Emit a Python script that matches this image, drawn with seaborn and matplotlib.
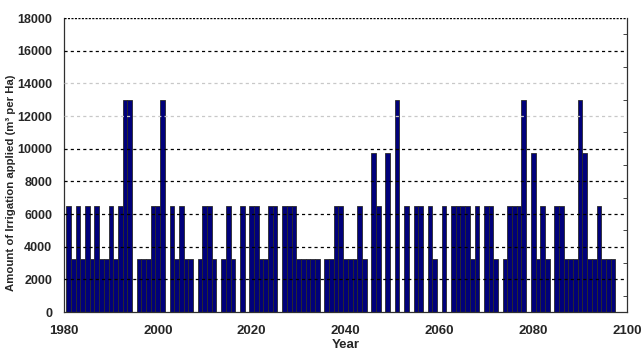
import matplotlib
matplotlib.use("Agg")
import matplotlib.pyplot as plt
from matplotlib.ticker import MultipleLocator
import seaborn as sns
import pandas as pd

# -----------------------------
# Data
# -----------------------------

years = list(range(1981, 2098))

irrigation = [
    6480, 3240, 6480, 3240, 6480, 3240, 6480, 3240, 3240, 6480,    # 1981-1990
    3240, 6480, 12960, 12960, 0, 3240, 3240, 3240, 6480, 6480,     # 1991-2000
    12960, 0, 6480, 3240, 6480, 3240, 3240, 0, 3240, 6480,         # 2001-2010
    6480, 3240, 0, 3240, 6480, 3240, 0, 6480, 0, 6480,             # 2011-2020
    6480, 3240, 3240, 6480, 6480, 0, 6480, 6480, 6480, 3240,       # 2021-2030
    3240, 3240, 3240, 3240, 0, 3240, 3240, 6480, 6480, 3240,       # 2031-2040
    3240, 3240, 6480, 3240, 0, 9720, 6480, 0, 9720, 0,             # 2041-2050
    12960, 0, 6480, 0, 6480, 6480, 0, 6480, 3240, 0,               # 2051-2060
    6480, 0, 6480, 6480, 6480, 6480, 3240, 6480, 0, 6480,          # 2061-2070
    6480, 3240, 0, 3240, 6480, 6480, 6480, 12960, 0, 9720,         # 2071-2080
    3240, 6480, 3240, 0, 6480, 6480, 3240, 3240, 3240, 12960,      # 2081-2090
    9720, 3240, 3240, 6480, 3240, 3240, 3240,                      # 2091-2097
]

y_ticks = list(range(0, 18001, 2000))
x_ticks = list(range(1980, 2101, 20))
light_grid = [12000, 14000]

df = pd.DataFrame({"Year": years, "Irrigation": irrigation})

# -----------------------------
# Plot
# -----------------------------

sns.set_style("white")
plt.rcParams["font.family"] = ["Liberation Sans Narrow", "Liberation Sans", "DejaVu Sans"]

fig = plt.figure(figsize=(6.41, 3.54), dpi=100)
ax = fig.add_axes([0.0998, 0.1186, 0.8784, 0.8305])

sns.barplot(
    data=df,
    x="Year",
    y="Irrigation",
    native_scale=True,
    width=1.0,
    color="#00007a",
    saturation=1,
    edgecolor="#2a2a2a",
    linewidth=0.6,
    errorbar=None,
    ax=ax,
    zorder=2,
)

# dashed horizontal grid drawn over the bars
for level in y_ticks[1:]:
    if level in light_grid:
        ax.axhline(level, color="#c8c8c8", linestyle=(0, (2.5, 2.5)), linewidth=0.9, zorder=3)
    elif level == 18000:
        ax.axhline(level, color="black", linestyle=(0, (1.5, 1.0)), linewidth=1.0, zorder=3)
    else:
        ax.axhline(level, color="black", linestyle=(0, (2.5, 2.5)), linewidth=0.9, zorder=3)

ax.set_xlim(1980, 2100)
ax.set_ylim(0, 18000)
ax.set_xticks(x_ticks)
ax.set_yticks(y_ticks)
ax.xaxis.set_minor_locator(MultipleLocator(4))
ax.yaxis.set_minor_locator(MultipleLocator(1000))

ax.tick_params(axis="both", which="major", direction="inout", length=7, width=0.8,
               labelsize=9.5)
ax.tick_params(axis="x", which="major", pad=6)
ax.tick_params(axis="y", which="major", pad=5, labelsize=9)
ax.tick_params(axis="both", which="minor", direction="out", length=3, width=0.6)
ax.tick_params(axis="y", which="minor", right=True, direction="in")
for label in ax.get_xticklabels() + ax.get_yticklabels():
    label.set_fontweight("bold")

for side in ["left", "bottom", "right"]:
    ax.spines[side].set_visible(True)
    ax.spines[side].set_color("#303030")
    ax.spines[side].set_linewidth(0.9)
ax.spines["top"].set_visible(False)

ax.set_xlabel("Year", fontsize=9.5, fontweight="bold", labelpad=1)
ax.set_ylabel("Amount of Irrigation applied (m³ per Ha)", fontsize=8.2,
              fontweight="bold", family=["Liberation Sans", "DejaVu Sans"])
ax.yaxis.set_label_coords(-0.085, 0.44)

plt.savefig("out.png", dpi=100)
